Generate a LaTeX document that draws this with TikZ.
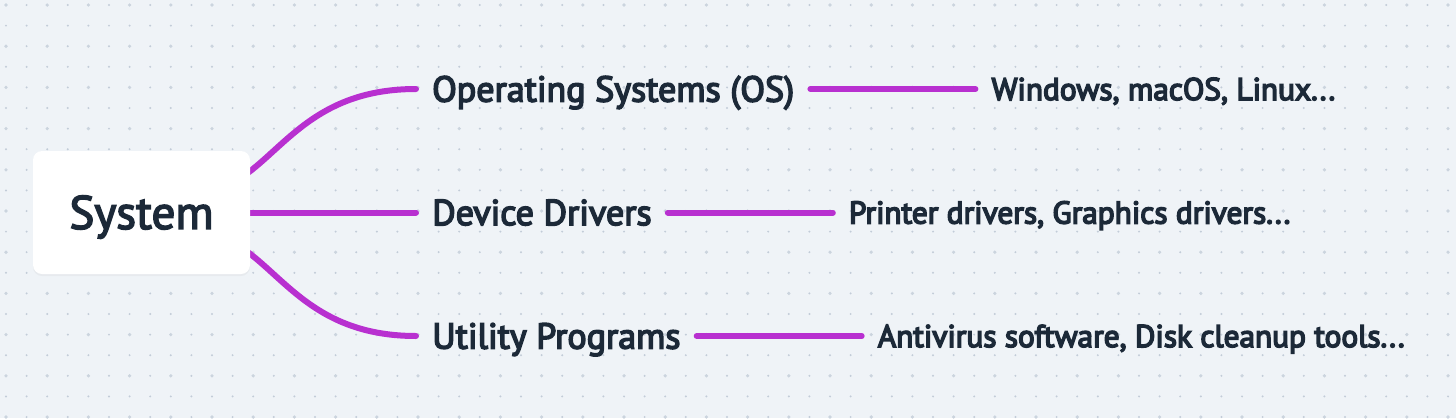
\documentclass[tikz,border=0pt]{standalone}
\usepackage{fontspec}
\setmainfont{PT Sans}
\usetikzlibrary{calc,positioning,shadows}
\definecolor{bgc}{HTML}{EFF3F7}
\definecolor{dotc}{HTML}{C2CCD8}
\definecolor{linkc}{HTML}{B830D0}
\definecolor{txtc}{HTML}{1C2938}
\newcommand\heavytxt[1]{\special{pdf:literal direct 2 Tr 1.5 w}#1\special{pdf:literal direct 0 Tr}}
\pgfdeclarelayer{grid}
\pgfdeclarelayer{links}
\pgfsetlayers{grid,links,main}
\tikzset{
  rootbox/.style={fill=white, rounded corners=9pt, minimum width=217pt, minimum height=123pt,
    inner sep=0pt, text=txtc, font=\fontsize{47}{50}\selectfont, text height=32.9pt, text depth=0pt,
    drop shadow={opacity=0.07, shadow xshift=0pt, shadow yshift=-2pt}},
  mainlabel/.style={anchor=west, inner xsep=16pt, inner ysep=0pt, text=txtc,
    font=\fontsize{36}{40}\selectfont, text height=25.2pt, text depth=0pt},
  leaflabel/.style={anchor=west, inner xsep=16pt, inner ysep=0pt, text=txtc,
    font=\fontsize{31.3}{36}\selectfont, text height=22pt, text depth=0pt},
  link/.style={draw=linkc, line width=6pt, line cap=round}
}
\begin{document}
\begin{tikzpicture}[x=1pt,y=-1pt]
\useasboundingbox (0,0) rectangle (1456,418);
\begin{pgfonlayer}{grid}
\fill[bgc] (0,0) rectangle (1456,418);
\foreach \i in {0,...,70}{
  \foreach \j in {0,...,20}{
    \fill[dotc] ({6+20.6*\i},{5+20.6*\j}) circle (1.1);
  }
}
\foreach \i in {0,2,...,70}{
  \foreach \j in {0,2,...,20}{
    \fill[dotc!85] ({6+20.6*\i},{5+20.6*\j}) circle (1.8);
  }
}
\end{pgfonlayer}

\node[rootbox] (root) at (141.5,212.5) {\heavytxt{System}};

\node[mainlabel] (os) at (416,89) {\heavytxt{Operating Systems (OS)}};
\node[mainlabel] (dd) at (416,212.5) {\heavytxt{Device Drivers}};
\node[mainlabel] (up) at (416,336) {\heavytxt{Utility Programs}};

\node[leaflabel, right=165pt of os.east, anchor=west] (osl) {\heavytxt{Windows, macOS, Linux...}};
\node[leaflabel, right=165pt of dd.east, anchor=west] (ddl) {\heavytxt{Printer drivers, Graphics drivers...}};
\node[leaflabel, right=165pt of up.east, anchor=west] (upl) {\heavytxt{Antivirus software, Disk cleanup tools...}};

\begin{pgfonlayer}{links}
\draw[link] ($(root.east)+(-11,-33.5)$) .. controls +(45,-29) and +(-101,0) .. (os.west);
\draw[link] (root.east) -- (dd.west);
\draw[link] ($(root.east)+(-11,33.5)$) .. controls +(45,29) and +(-101,0) .. (up.west);
\draw[link] (os.east) -- (osl.west);
\draw[link] (dd.east) -- (ddl.west);
\draw[link] (up.east) -- (upl.west);
\end{pgfonlayer}
\end{tikzpicture}
\end{document}
